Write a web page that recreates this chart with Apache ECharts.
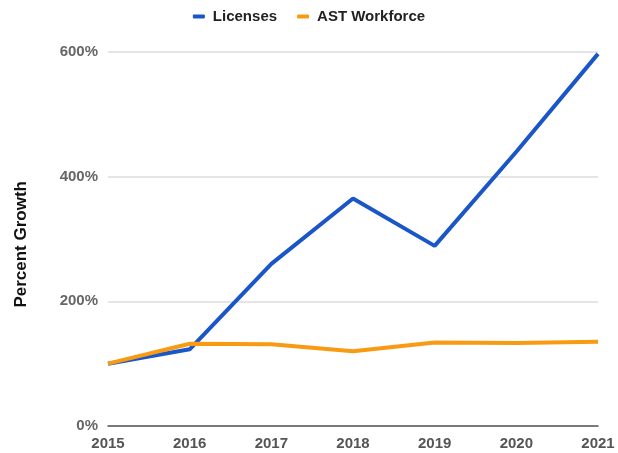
<!DOCTYPE html>
<html><head><meta charset="utf-8">
<script src="https://cdn.jsdelivr.net/npm/echarts@6/dist/echarts.min.js"></script>
<style>html,body{margin:0;padding:0;background:#fff}#c{width:618px;height:453px}</style>
</head><body><div id="c"></div>
<script>
const years = ['2015','2016','2017','2018','2019','2020','2021'];
const licenses = [100, 123, 260, 365, 289, 440, 597];
const workforce = [100, 132, 131, 120, 134, 133, 135];
const yTicks = [0, 200, 400, 600];
const yName = 'Percent Growth';

const FF = '"Liberation Sans", Arial, sans-serif';
const chart = echarts.init(document.getElementById('c'));
chart.setOption({
  animation: false,
  textStyle: {fontFamily: FF},
  legend: {
    top: 4, left: 'center', itemWidth: 12, itemHeight: 4, itemGap: 20,
    icon: 'roundRect',
    textStyle: {fontSize: 15, fontWeight: 'bold', color: '#222', fontFamily: FF, padding: [0,0,0,3]},
    data: ['Licenses', 'AST Workforce']
  },
  grid: {left: 108, right: 20, top: 52, bottom: 27},
  graphic: [{
    type: 'text', left: 13, top: 181, rotation: Math.PI / 2,
    style: {text: yName, font: 'bold 17px ' + FF, fill: '#111'}
  }],
  xAxis: {
    type: 'category', data: years, boundaryGap: false,
    axisLine: {lineStyle: {color: '#555', width: 1.5}},
    axisTick: {show: false},
    axisLabel: {fontSize: 15, fontWeight: 'bold', color: '#555', margin: 10, fontFamily: FF}
  },
  yAxis: {
    type: 'value', min: yTicks[0], max: yTicks[yTicks.length-1], interval: 200,
    axisLine: {show: false}, axisTick: {show: false},
    axisLabel: {formatter: '{value}%', fontSize: 15, fontWeight: 'bold', color: '#666', margin: 10, fontFamily: FF},
    splitLine: {lineStyle: {color: '#ddd', width: 1.5}}
  },
  series: [
    {name: 'Licenses', type: 'line', data: licenses, symbol: 'none',
     lineStyle: {width: 4, color: '#1a56c8'}, itemStyle: {color: '#1a56c8'}, z: 2},
    {name: 'AST Workforce', type: 'line', data: workforce, symbol: 'none',
     lineStyle: {width: 4, color: '#f89b12'}, itemStyle: {color: '#f89b12'}, z: 3}
  ]
});
</script></body></html>
